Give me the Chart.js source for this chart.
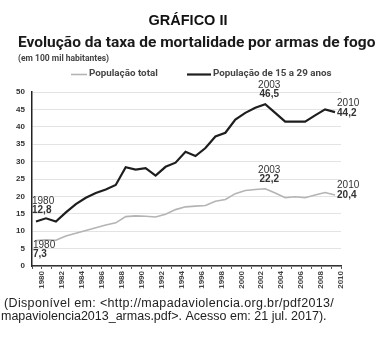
<!DOCTYPE html>
<html lang="pt-BR">
<head>
<meta charset="utf-8">
<title>Gráfico II</title>
<script src="https://cdn.jsdelivr.net/npm/chart.js@4.4.1/dist/chart.umd.min.js"></script>
<style>
  html, body { margin: 0; padding: 0; background: #fff; }
  canvas { display: block; }
</style>
</head>
<body>
<canvas id="chart" width="377" height="342"></canvas>
<script>
// Taxa de mortalidade por armas de fogo (por 100 mil habitantes), 1980-2010
const YEARS = [
  1980, 1981, 1982, 1983, 1984, 1985, 1986, 1987, 1988, 1989, 1990,
  1991, 1992, 1993, 1994, 1995, 1996, 1997, 1998, 1999, 2000,
  2001, 2002, 2003, 2004, 2005, 2006, 2007, 2008, 2009, 2010
];
const TOTAL_RATE = [
  7.3, 7.5, 7.4, 8.6, 9.4, 10.2, 11.0, 11.8, 12.4, 14.2, 14.4,
  14.3, 14.1, 14.9, 16.2, 17.0, 17.2, 17.4, 18.6, 19.1, 20.8,
  21.7, 22.0, 22.2, 21.0, 19.6, 19.9, 19.6, 20.4, 21.1, 20.4
];
const YOUTH_RATE = [
  12.8, 13.7, 12.8, 15.4, 17.8, 19.6, 21.0, 22.0, 23.3, 28.4, 27.7,
  28.1, 26.0, 28.5, 29.7, 32.8, 31.6, 33.9, 37.2, 38.3, 42.1,
  44.0, 45.5, 46.5, 44.0, 41.5, 41.5, 41.5, 43.3, 45.0, 44.2
];
const SERIES_LABELS = ['População total', 'População de 15 a 29 anos'];
const CALLOUT_YEARS = [1980, 2003, 2010];

const SANS = '"Liberation Sans", Arial, sans-serif';
const HEAD = 'Roboto, "Noto Sans", sans-serif';

// titles, legend and source line
const framePlugin = {
  id: 'frame',
  beforeDraw(chart) {
    const ctx = chart.ctx;
    ctx.save();
    ctx.fillStyle = '#fff';
    ctx.fillRect(0, 0, chart.width, chart.height);

    ctx.textBaseline = 'middle';
    ctx.fillStyle = '#111';
    ctx.textAlign = 'center';
    ctx.font = 'bold 14.5px ' + SANS;
    ctx.fillText('GRÁFICO II', 188, 21);

    ctx.textAlign = 'left';
    ctx.fillStyle = '#1a1a1a';
    ctx.font = 'bold 15.5px ' + HEAD;
    ctx.fillText('Evolução da taxa de mortalidade por armas de fogo', 18, 43);

    ctx.fillStyle = '#444';
    ctx.font = 'bold 8.5px ' + HEAD;
    ctx.fillText('(em 100 mil habitantes)', 18, 59);

    // legend
    const legendPos = [{ x: 71, len: 16 }, { x: 187, len: 24 }];
    ctx.font = 'bold 9.8px ' + HEAD;
    chart.data.datasets.forEach((ds, i) => {
      const p = legendPos[i];
      ctx.strokeStyle = ds.borderColor;
      ctx.lineWidth = ds.borderWidth;
      ctx.beginPath();
      ctx.moveTo(p.x, 74.5);
      ctx.lineTo(p.x + p.len, 74.5);
      ctx.stroke();
      ctx.fillStyle = '#444';
      ctx.fillText(ds.label, p.x + p.len + 2, 74);
    });

    // source
    ctx.fillStyle = '#222';
    ctx.font = '12.5px ' + SANS;
    ctx.letterSpacing = '0.35px';
    ctx.fillText('(Disponível em: <http://mapadaviolencia.org.br/pdf2013/', 4, 304);
    ctx.letterSpacing = '0px';
    ctx.fillText('mapaviolencia2013_armas.pdf>. Acesso em: 21 jul. 2017).', 1, 317);
    ctx.restore();
  }
};

// year / value callouts at 1980, 2003 and 2010
const calloutPlugin = {
  id: 'callouts',
  afterDatasetsDraw(chart) {
    const ctx = chart.ctx;
    const xs = chart.scales.x;
    const ys = chart.scales.y;
    // [dx, align, dyYear, dyValue] per series / year
    const place = {
      0: { 1980: [-3, 'left', 5, 14], 2003: [4, 'center', -18, -9], 2010: [2, 'left', -10, 0] },
      1: { 1980: [-4, 'left', -20, -11], 2003: [4, 'center', -18.5, -9.5], 2010: [2, 'left', -9, 1] }
    };
    ctx.save();
    ctx.textBaseline = 'middle';
    ctx.fillStyle = '#333';
    chart.data.datasets.forEach((ds, i) => {
      const series = i === 0 ? TOTAL_RATE : YOUTH_RATE;
      CALLOUT_YEARS.forEach(year => {
        const v = series[YEARS.indexOf(year)];
        const px = xs.getPixelForValue(year);
        const py = ys.getPixelForValue(v);
        const [dx, align, dy1, dy2] = place[i][year];
        ctx.textAlign = align;
        ctx.font = '10px ' + SANS;
        ctx.fillText(String(year), px + dx, py + dy1);
        ctx.font = 'bold 10px ' + SANS;
        ctx.fillText(v.toFixed(1).replace('.', ','), px + dx, py + dy2);
      });
    });
    ctx.restore();
  }
};

const toPoints = values => YEARS.map((yr, i) => ({ x: yr, y: values[i] }));

new Chart(document.getElementById('chart').getContext('2d'), {
  type: 'line',
  data: {
    datasets: [
      {
        label: SERIES_LABELS[0],
        data: toPoints(TOTAL_RATE),
        borderColor: '#b4b4b4',
        borderWidth: 1.6,
        pointRadius: 0,
        tension: 0,
        xAxisID: 'x'
      },
      {
        label: SERIES_LABELS[1],
        data: toPoints(YOUTH_RATE),
        borderColor: '#1e1e1e',
        borderWidth: 2.2,
        pointRadius: 0,
        tension: 0,
        xAxisID: 'x'
      }
    ]
  },
  options: {
    responsive: false,
    animation: false,
    devicePixelRatio: 1,
    layout: { padding: { top: 92, right: 36, bottom: 0, left: 0 } },
    plugins: {
      legend: { display: false },
      tooltip: { enabled: false }
    },
    scales: {
      x: { type: 'linear', display: false, min: 1979.6, max: 2010.6 },
      years: {
        type: 'linear',
        position: 'bottom',
        min: 1979,
        max: 2010,
        afterFit(scale) { scale.height = 76; },
        ticks: {
          stepSize: 1,
          autoSkip: false,
          minRotation: 90,
          maxRotation: 90,
          padding: 2,
          color: '#444',
          font: { family: SANS, size: 8, weight: 'bold' },
          callback: v => (v % 2 === 0 ? String(v) : '')
        },
        grid: { drawOnChartArea: false, drawTicks: true, tickLength: 3, color: '#555' },
        border: { color: '#333', width: 1.5 }
      },
      y: {
        min: 0,
        max: 50,
        afterFit(scale) { scale.width = 32; },
        ticks: {
          stepSize: 5,
          padding: 7,
          color: '#333',
          font: { family: SANS, size: 8, weight: 'bold' }
        },
        grid: { color: '#e3e3e3', drawTicks: false },
        border: { color: '#222', width: 1.5 }
      }
    }
  },
  plugins: [framePlugin, calloutPlugin]
});
</script>
</body>
</html>
